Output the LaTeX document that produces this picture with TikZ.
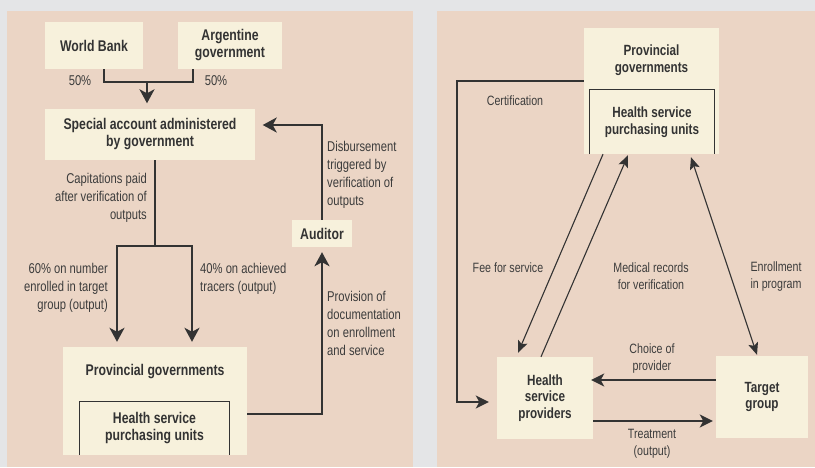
\documentclass[tikz,border=0pt]{standalone}
\usepackage{fontspec}
\setmainfont{Liberation Sans}[FakeStretch=0.79]
\usetikzlibrary{arrows.meta,calc}
\definecolor{bggray}{HTML}{E4E5E7}
\definecolor{panel}{HTML}{EBD5C5}
\definecolor{boxc}{HTML}{F7F1DC}
\definecolor{ink}{HTML}{333333}
\definecolor{lblink}{HTML}{3C3C3C}
\tikzset{
  box/.style={fill=boxc,draw=none,inner sep=0pt,text=ink,font=\bfseries\fontsize{15.5}{17}\selectfont,align=center},
  rbox/.style={box,font=\bfseries\fontsize{14.8}{16.5}\selectfont},
  lbl/.style={text=lblink,inner sep=0pt,font=\fontsize{14.2}{17.8}\selectfont},
  rlbl/.style={text=lblink,inner sep=0pt,font=\fontsize{13.5}{17}\selectfont},
  blbl/.style={text=ink,inner sep=0pt,font=\bfseries\fontsize{15.5}{17}\selectfont,align=center},
  rblbl/.style={blbl,font=\bfseries\fontsize{14.8}{16.5}\selectfont},
  conn/.style={draw=ink,line width=2.4pt},
  arr/.style={conn,-{Stealth[length=14pt,width=15pt,inset=4pt]}},
  rconn/.style={draw=ink,line width=2pt},
  rarr/.style={rconn,-{Stealth[length=13pt,width=13pt,inset=3.5pt]}},
  thin/.style={draw=ink,line width=1.1pt},
  tarr/.style={thin,-{Stealth[length=12pt,width=10pt,inset=2.5pt]}},
  tdarr/.style={thin,{Stealth[length=12pt,width=10pt,inset=2.5pt]}-{Stealth[length=12pt,width=10pt,inset=2.5pt]}},
}
\begin{document}
\begin{tikzpicture}[x=1pt,y=-1pt]
\useasboundingbox (0,0) rectangle (815,467);
\fill[bggray] (0,0) rectangle (815,467);
\fill[panel] (7,11) rectangle (413,467);
\fill[panel] (437,11) rectangle (815,467);

% ---------------- left panel ----------------
\node[box,minimum width=98pt,minimum height=47pt] (wb) at (94,45.5) {World Bank};
\node[box,minimum width=104pt,minimum height=47pt] (ag) at (230,45.5) {Argentine\\government};
\node[box,minimum width=210pt,minimum height=51pt] (sa) at (150,134.5) {Special account administered\\by government};
\node[box,minimum width=60pt,minimum height=27pt] (aud) at (322,233.5) {Auditor};
\node[box,minimum width=184pt,minimum height=108pt] (pgL) at (155,401) {};
\node[blbl] (pgLt) at (155,372) {Provincial governments};
\node[box,minimum width=149pt,minimum height=53pt] (hsL) at (154.5,428.5) {Health service\\purchasing units};
\draw[draw=ink,line width=0.9pt] (hsL.south west) -- (hsL.north west) -- (hsL.north east) -- (hsL.south east);

\coordinate (j1) at (147,82);
\draw[conn] ([xshift=10pt]wb.south) |- (j1) -| ([xshift=-37pt]ag.south);
\draw[arr,shorten >=5.5pt] (j1) -- (j1 |- sa.north);
\node[lbl] (p1) at (80,81) {50\%};
\node[lbl] (p2) at (216,81) {50\%};

\draw[arr,shorten >=7.5pt] (aud.north) |- ([yshift=9.5pt]sa.east);
\node[lbl,anchor=west,align=left] (disb) at (327,175) {Disbursement\\triggered by\\verification of\\outputs};

\coordinate (j2) at (155,246);
\coordinate (jl) at (117,246);
\coordinate (jr) at (192,246);
\draw[conn] ([xshift=5pt]sa.south) -- (j2);
\draw[arr,shorten >=5pt] (j2) -| (jl |- pgL.north);
\draw[arr,shorten >=5pt] (j2) -| (jr |- pgL.north);
\node[lbl,anchor=east,align=right] (cap) at (147,198) {Capitations paid\\after verification of\\outputs};
\node[lbl,anchor=east,align=right] (sixty) at (108,288) {60\% on number\\enrolled in target\\group (output)};
\node[lbl,anchor=west,align=left] (forty) at (200,279) {40\% on achieved\\tracers (output)};

\draw[arr,shorten >=5pt] ([yshift=-13pt]pgL.east) -| (aud.south);
\node[lbl,anchor=west,align=left] (prov) at (327,323.5) {Provision of\\documentation\\on enrollment\\and service};

% ---------------- right panel ----------------
\node[rbox,minimum width=135pt,minimum height=126pt] (pgR) at (651.5,91) {};
\node[rblbl] (pgRt) at (651.5,60) {Provincial\\governments};
\node[rbox,minimum width=124pt,minimum height=64pt] (hsR) at (652,122) {Health service\\purchasing units};
\draw[draw=ink,line width=0.9pt] (hsR.south west) -- (hsR.north west) -- (hsR.north east) -- (hsR.south east);
\node[rbox,minimum width=96pt,minimum height=82pt] (hsp) at (545,398) {Health\\service\\providers};
\node[rbox,minimum width=92pt,minimum height=82pt] (tg) at (762,397) {Target\\group};

\coordinate (c1) at (457,81);
\draw[rarr,shorten >=8pt] ([yshift=10pt]pgR.west) -- (c1) |- ([yshift=-4pt]hsp.west);
\node[rlbl] (cert) at (515,101) {Certification};

\draw[rarr,shorten >=-2pt] ([yshift=17pt]tg.west) -- ([yshift=18pt]hsp.east);
\draw[rarr,shorten >=3pt] ([yshift=-23pt]hsp.east) -- ([yshift=-24pt]tg.west);
\node[rlbl,align=center] (choice) at (652,359) {Choice of\\provider};
\node[rlbl,align=center] (treat) at (652,444) {Treatment\\(output)};

\draw[tarr] ([xshift=-48.5pt]pgR.south) -- ([xshift=-27pt,yshift=4pt]hsp.north);
\draw[tarr] ([xshift=-4pt]hsp.north) -- ([xshift=-23.5pt,yshift=-1pt]pgR.south);
\draw[tdarr] ([xshift=39.5pt,yshift=-3pt]pgR.south) -- ([xshift=-5pt,yshift=1pt]tg.north);
\node[rlbl] (fee) at (508,268) {Fee for service};
\node[rlbl,align=center] (med) at (651,276.5) {Medical records\\for verification};
\node[rlbl,align=center] (enr) at (776,276.5) {Enrollment\\in program};
\end{tikzpicture}
\end{document}
